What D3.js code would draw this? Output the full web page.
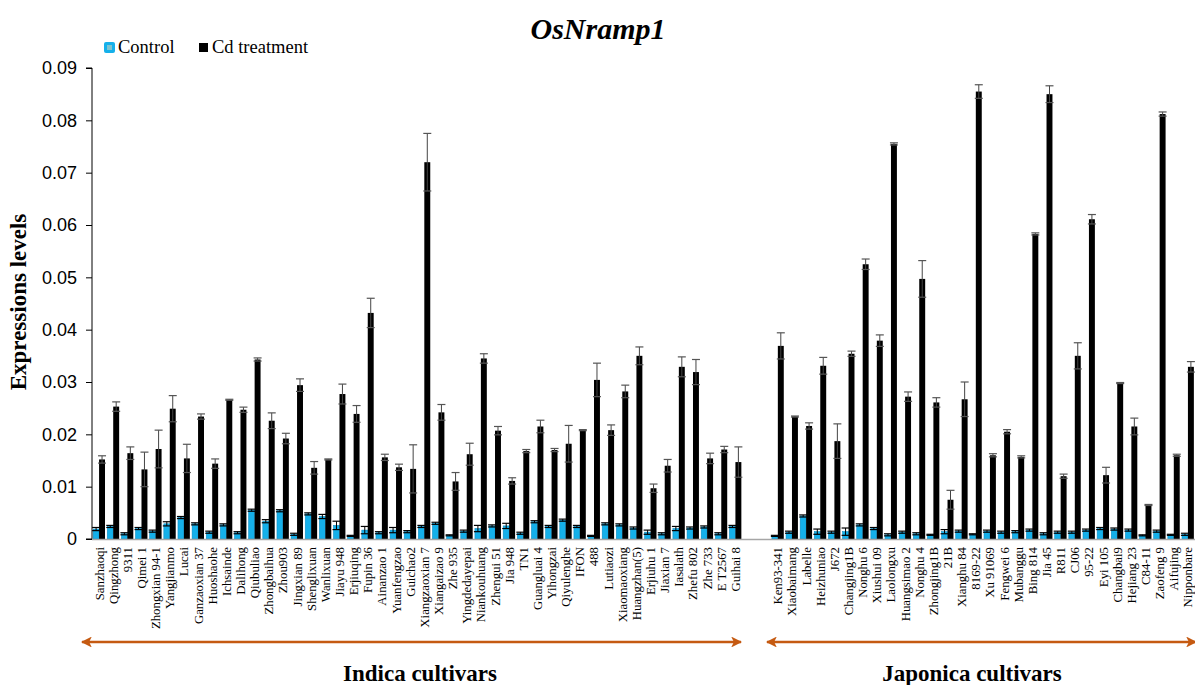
<!DOCTYPE html>
<html>
<head>
<meta charset="utf-8">
<script src="https://cdn.jsdelivr.net/npm/d3@7"></script>
<style>
  body { margin: 0; background: #fff; }
  svg { display: block; }
  .axis text { fill: #000; }
</style>
</head>
<body>
<svg id="chart" width="1195" height="685"></svg>
<script>
const indica = ['Sanzhaoqi', 'Qingzhong', '9311', 'Qimei 1', 'Zhongxian 94-1', 'Yangjianmo', 'Lucai',
    'Ganzaoxian 37', 'Huoshaohe', 'Ichsainde', 'Dalihong', 'Qiubuliao', 'Zhongbaihua', 'Zhou903',
    'Jingxian 89', 'Shenglixuan', 'Wanlixuan', 'Jiayu 948', 'Erjiuqing', 'Fupin 36', 'Ainanzao 1',
    'Yuanfengzao', 'Guichao2', 'Xiangzaoxian 7', 'Xiangaizao 9', 'Zhe 935', 'Yingdedayepai',
    'Niankouhuang', 'Zhengui 51', 'Jia 948', 'TN1', 'Guangluai 4', 'Yihongzai', 'Qiyulenghe', 'IFON',
    '488', 'Lutiaozi', 'Xiaomaoxiang', 'Huangzhan(5)', 'Erjiuhu 1', 'Jiaxian 7', 'Iasalath',
    'Zhefu 802', 'Zhe 733', 'E T2567', 'Guihai 8'];
const japonica = ['Ken93-341', 'Xiaobaimang', 'Labelle', 'Heizhuniao', 'J672', 'Changjing1B', 'Nonghu 6',
    'Xiushui 09', 'Laolongxu', 'Huangsimao 2', 'Nonghu 4', 'Zhongjing1B', '21B', 'Xianghu 84', '8169-22',
    'Xu 91069', 'Fengwei 6', 'Mubanggu', 'Bing 814', 'Jia 45', 'R811', 'CJ06', '95-22', 'Eyi 105',
    'Changbai9', 'Hejiang 23', 'C84-11', 'Zaofeng 9', 'Aifujing', 'Nipponbare'];

// Control (indica then japonica)
const controlValues = [
    0.0019, 0.0024, 0.0010, 0.0020, 0.0015, 0.0029, 0.0041, 0.0029, 0.0013, 0.0027,
    0.0012, 0.0055, 0.0034, 0.0054, 0.0009, 0.0048, 0.0043, 0.0026, 0.0006, 0.0017,
    0.0012, 0.0017, 0.0014, 0.0024, 0.0030, 0.0007, 0.0015, 0.0020, 0.0025, 0.0025,
    0.0011, 0.0033, 0.0024, 0.0036, 0.0024, 0.0006, 0.0029, 0.0027, 0.0021, 0.0013,
    0.0010, 0.0020, 0.0021, 0.0023, 0.0010, 0.0024,
    0.0006, 0.0013, 0.0044, 0.0014, 0.0013, 0.0014, 0.0027, 0.0020, 0.0008, 0.0013,
    0.0010, 0.0008, 0.0014, 0.0015, 0.0009, 0.0015, 0.0013, 0.0014, 0.0017, 0.0010,
    0.0013, 0.0013, 0.0017, 0.0020, 0.0019, 0.0017, 0.0007, 0.0015, 0.0008, 0.0009];
const controlErrors = [
    0.0003, 0.0002, 0.0002, 0.0002, 0.0002, 0.0004, 0.0002, 0.0002, 0.0002, 0.0002,
    0.0002, 0.0002, 0.0003, 0.0002, 0.0002, 0.0002, 0.0004, 0.0008, 0.0001, 0.0007,
    0.0002, 0.0005, 0.0002, 0.0002, 0.0002, 0.0001, 0.0002, 0.0006, 0.0002, 0.0005,
    0.0002, 0.0002, 0.0002, 0.0002, 0.0002, 0.0001, 0.0002, 0.0002, 0.0002, 0.0004,
    0.0002, 0.0004, 0.0002, 0.0002, 0.0002, 0.0002,
    0.0001, 0.0002, 0.0002, 0.0005, 0.0002, 0.0007, 0.0002, 0.0002, 0.0002, 0.0002,
    0.0002, 0.0001, 0.0004, 0.0002, 0.0001, 0.0002, 0.0002, 0.0002, 0.0002, 0.0002,
    0.0002, 0.0002, 0.0002, 0.0002, 0.0002, 0.0002, 0.0001, 0.0002, 0.0001, 0.0002];

// Cd treatment
const cdValues = [
    0.0152, 0.0253, 0.0164, 0.0133, 0.0172, 0.0249, 0.0154, 0.0234, 0.0144, 0.0266,
    0.0247, 0.0343, 0.0226, 0.0192, 0.0294, 0.0136, 0.0152, 0.0277, 0.0239, 0.0432,
    0.0156, 0.0137, 0.0134, 0.0720, 0.0242, 0.0110, 0.0162, 0.0345, 0.0207, 0.0111,
    0.0168, 0.0215, 0.0170, 0.0182, 0.0208, 0.0304, 0.0208, 0.0282, 0.0350, 0.0097,
    0.0140, 0.0329, 0.0319, 0.0154, 0.0171, 0.0147,
    0.0369, 0.0234, 0.0216, 0.0331, 0.0187, 0.0354, 0.0525, 0.0379, 0.0755, 0.0272,
    0.0497, 0.0261, 0.0075, 0.0267, 0.0855, 0.0160, 0.0205, 0.0157, 0.0583, 0.0850,
    0.0120, 0.0350, 0.0611, 0.0122, 0.0298, 0.0215, 0.0065, 0.0812, 0.0160, 0.0329];
const cdErrors = [
    0.0007, 0.0009, 0.0012, 0.0033, 0.0036, 0.0025, 0.0027, 0.0005, 0.0009, 0.0001,
    0.0005, 0.0003, 0.0015, 0.0010, 0.0012, 0.0012, 0.0001, 0.0019, 0.0016, 0.0028,
    0.0006, 0.0006, 0.0046, 0.0055, 0.0015, 0.0017, 0.0021, 0.0009, 0.0008, 0.0006,
    0.0003, 0.0012, 0.0003, 0.0035, 0.0001, 0.0032, 0.0010, 0.0012, 0.0017, 0.0008,
    0.0012, 0.0019, 0.0024, 0.0010, 0.0006, 0.0029,
    0.0025, 0.0001, 0.0006, 0.0016, 0.0033, 0.0005, 0.0010, 0.0011, 0.0002, 0.0009,
    0.0035, 0.0009, 0.0018, 0.0033, 0.0013, 0.0003, 0.0004, 0.0002, 0.0002, 0.0016,
    0.0004, 0.0025, 0.0009, 0.0015, 0.0001, 0.0016, 0.0001, 0.0004, 0.0002, 0.0010];

const series = ['Control', 'Cd treatment'];
const yTicks = [0, 0.01, 0.02, 0.03, 0.04, 0.05, 0.06, 0.07, 0.08, 0.09];

const colors = {Control: '#15b0ea', 'Cd treatment': '#000'};
const serif = '"Liberation Serif", "Times New Roman", serif';
const sans = '"Liberation Sans", Arial, sans-serif';
const arrowColor = '#c55a11';

const cultivars = indica.concat(japonica);
const gaps = ['gap-a', 'gap-b'];
const slots = indica.concat(gaps, japonica);

const data = cultivars.map((name, i) => ({
    name,
    values: [
        {key: 'Control', value: controlValues[i], err: controlErrors[i]},
        {key: 'Cd treatment', value: cdValues[i], err: cdErrors[i]},
    ],
}));

const x0 = 92, x1 = 1195, yTop = 68, yBottom = 539;

const xScale = d3.scaleBand()
    .domain(slots)
    .range([x0, x1])
    .paddingInner(0.16)
    .paddingOuter(0.08);

const xSub = d3.scaleBand()
    .domain(series)
    .range([0, xScale.bandwidth()]);

const yScale = d3.scaleLinear()
    .domain([0, 0.09])
    .range([yBottom, yTop]);

const svg = d3.select('#chart');

// title
svg.append('text')
    .attr('x', 598).attr('y', 39)
    .attr('text-anchor', 'middle')
    .style('font-family', serif)
    .style('font-size', '30px')
    .style('font-weight', 'bold')
    .style('font-style', 'italic')
    .text('OsNramp1');

// legend
const legend = svg.append('g').attr('class', 'legend');
legend.append('rect')
    .attr('x', 104).attr('y', 42).attr('width', 11).attr('height', 11).attr('rx', 2)
    .attr('fill', colors.Control);
legend.append('rect')
    .attr('x', 107).attr('y', 45).attr('width', 5).attr('height', 5)
    .attr('fill', '#7fc4cf');
legend.append('text')
    .attr('x', 118).attr('y', 53)
    .style('font-family', serif).style('font-size', '18.5px')
    .text('Control');
legend.append('rect')
    .attr('x', 199).attr('y', 43).attr('width', 9).attr('height', 9)
    .attr('fill', '#000');
legend.append('text')
    .attr('x', 212).attr('y', 53)
    .style('font-family', serif).style('font-size', '18.5px')
    .text('Cd treatment');

// y axis
const yAxis = d3.axisLeft(yScale)
    .tickValues(yTicks)
    .tickSize(6)
    .tickFormat(d => d === 0 ? '0' : d3.format('.2f')(d));

const gy = svg.append('g')
    .attr('class', 'axis axis--y')
    .attr('transform', `translate(${x0}, 0)`)
    .call(yAxis);
gy.select('.domain').attr('stroke', '#000').attr('d', `M-6,${yTop}H0V${yBottom}H-6`);
gy.selectAll('.tick line').attr('stroke', '#000');
gy.selectAll('.tick text')
    .attr('x', -15)
    .style('font-family', sans)
    .style('font-size', '18px');

svg.append('text')
    .attr('transform', 'translate(26, 302) rotate(-90)')
    .attr('text-anchor', 'middle')
    .style('font-family', serif)
    .style('font-size', '23px')
    .style('font-weight', 'bold')
    .text('Expressions levels');

// bars
const group = svg.append('g').attr('class', 'bars')
    .selectAll('.cultivar')
    .data(data)
    .join('g')
    .attr('class', 'cultivar')
    .attr('transform', d => `translate(${xScale(d.name)}, 0)`);

group.selectAll('rect')
    .data(d => d.values)
    .join('rect')
    .attr('x', d => xSub(d.key))
    .attr('y', d => yScale(d.value))
    .attr('width', xSub.bandwidth())
    .attr('height', d => yBottom - yScale(d.value))
    .attr('fill', d => colors[d.key])
    .attr('stroke', d => d.key === 'Control' ? '#0b8cc4' : 'none')
    .attr('stroke-width', 0.6);

// error bars
const err = group.selectAll('.err')
    .data(d => d.values)
    .join('g')
    .attr('class', 'err')
    .attr('transform', d => `translate(${xSub(d.key) + xSub.bandwidth() / 2}, 0)`);

err.append('line')
    .attr('y1', d => yScale(d.value - d.err))
    .attr('y2', d => yScale(d.value + d.err))
    .attr('stroke', d => d.key === 'Control' ? '#000' : '#444')
    .attr('stroke-width', 1);
err.selectAll('.cap')
    .data(d => [d.value + d.err, d.value - d.err].map(v => ({v, key: d.key})))
    .join('line')
    .attr('class', 'cap')
    .attr('x1', -4).attr('x2', 4)
    .attr('y1', d => yScale(d.v)).attr('y2', d => yScale(d.v))
    .attr('stroke', d => d.key === 'Control' ? '#000' : '#555')
    .attr('stroke-width', 1.2);

// x axis
const xAxis = d3.axisBottom(xScale)
    .tickValues(cultivars)
    .tickSize(0)
    .tickPadding(0);

const gx = svg.append('g')
    .attr('class', 'axis axis--x')
    .attr('transform', `translate(0, ${yBottom})`)
    .call(xAxis);
gx.select('.domain').attr('stroke', '#a6a6a6').attr('stroke-width', 1.5)
    .attr('d', `M${x0},0.5H${x1}`);
gx.selectAll('.tick text')
    .attr('transform', 'rotate(-90)')
    .attr('x', -8).attr('y', 0).attr('dy', '0.35em')
    .attr('text-anchor', 'end')
    .style('font-family', serif)
    .style('font-size', '12.8px');

// group arrows
const defs = svg.append('defs');
defs.append('marker')
    .attr('id', 'head')
    .attr('viewBox', '0 0 10 10')
    .attr('refX', 9).attr('refY', 5)
    .attr('markerWidth', 4.2).attr('markerHeight', 4.2)
    .attr('orient', 'auto-start-reverse')
    .append('path')
    .attr('d', 'M0,0L10,5L0,10L2.5,5Z')
    .attr('fill', arrowColor);

const groups = [
    {label: 'Indica cultivars', x1: 82, x2: 741, tx: 420},
    {label: 'Japonica cultivars', x1: 767, x2: 1196, tx: 972},
];

groups.forEach(g => {
    svg.append('line')
        .attr('x1', g.x1).attr('x2', g.x2)
        .attr('y1', 642).attr('y2', 642)
        .attr('stroke', arrowColor)
        .attr('stroke-width', 2.6)
        .attr('marker-start', 'url(#head)')
        .attr('marker-end', 'url(#head)');
    svg.append('text')
        .attr('x', g.tx).attr('y', 681)
        .attr('text-anchor', 'middle')
        .style('font-family', serif)
        .style('font-size', '23px')
        .style('font-weight', 'bold')
        .text(g.label);
});
</script>
</body>
</html>
